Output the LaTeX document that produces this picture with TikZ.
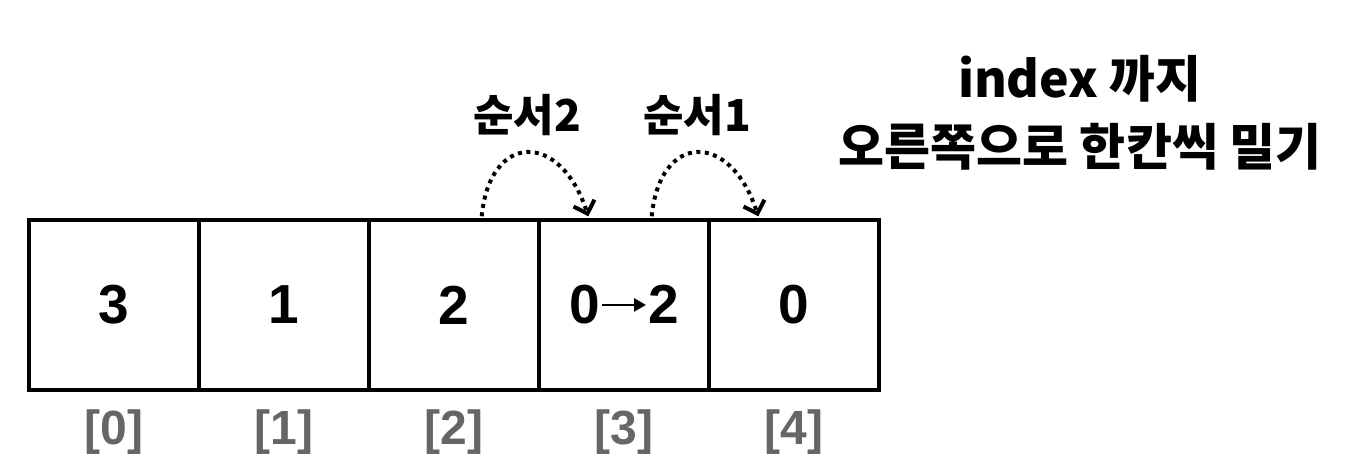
\documentclass[tikz,border=0pt]{standalone}
\usepackage{fontspec}
\setmainfont{Liberation Sans}
\newfontfamily\kr{Noto Sans CJK KR}
\usetikzlibrary{arrows.meta,calc}
\newcommand{\smallarrow}{\tikz[baseline=0pt,x=1pt,y=1pt]\draw[line width=2.6pt,-{Triangle[length=12pt,width=13pt]}] (0,19) -- (44,19);}
\begin{document}
\begin{tikzpicture}[x=1pt,y=-1pt,
  cell/.style={draw,line width=3.4pt,minimum width=170pt,minimum height=170pt,inner sep=0pt,
    font=\fontsize{55}{55}\selectfont\bfseries},
  idx/.style={text=black!60,font=\fontsize{48}{48}\selectfont\bfseries},
  hop/.style={line width=4pt,dash pattern=on 4pt off 4.5pt,
    -{Straight Barb[length=11pt,width=22pt,line width=4pt]}},
  lbl/.style={font=\kr\fontsize{44}{44}\selectfont\bfseries},
  title/.style={font=\kr\fontsize{50}{68}\selectfont\bfseries,align=center}]
\useasboundingbox (0,0) rectangle (1360,470);
\fill[white] (0,0) rectangle (1360,470);
\node[cell] (b0) at (114,305) {3};
\node[cell] (b1) at (284,305) {1};
\node[cell] (b2) at (454,305) {2};
\node[cell] (b3) at (624,305) {0\hspace{1pt}\smallarrow\hspace{1pt}2};
\node[cell] (b4) at (794,305) {0};
\node[idx] (i0) at (114,432) {[0]};
\node[idx] (i1) at (284,432) {[1]};
\node[idx] (i2) at (454,432) {[2]};
\node[idx] (i3) at (624,432) {[3]};
\node[idx] (i4) at (794,432) {[4]};
\coordinate (s2) at ($(b2.north east)+(-59,-2)$);
\coordinate (e2) at ($(b3.north west)+(51,-2)$);
\coordinate (s1) at ($(b3.north east)+(-59,-2)$);
\coordinate (e1) at ($(b4.north west)+(51,-2)$);
\draw[hop] (s2) .. controls ($(s2)+(8,-84)$) and ($(e2)+(-28,-86)$) .. (e2);
\draw[hop] (s1) .. controls ($(s1)+(8,-84)$) and ($(e1)+(-28,-86)$) .. (e1);
\node[lbl] (l2) at (527,115) {순서2};
\node[lbl] (l1) at (697,115) {순서1};
\node[title] (t) at (1080,113) {index 까지\\오른쪽으로 한칸씩 밀기};
\end{tikzpicture}
\end{document}
